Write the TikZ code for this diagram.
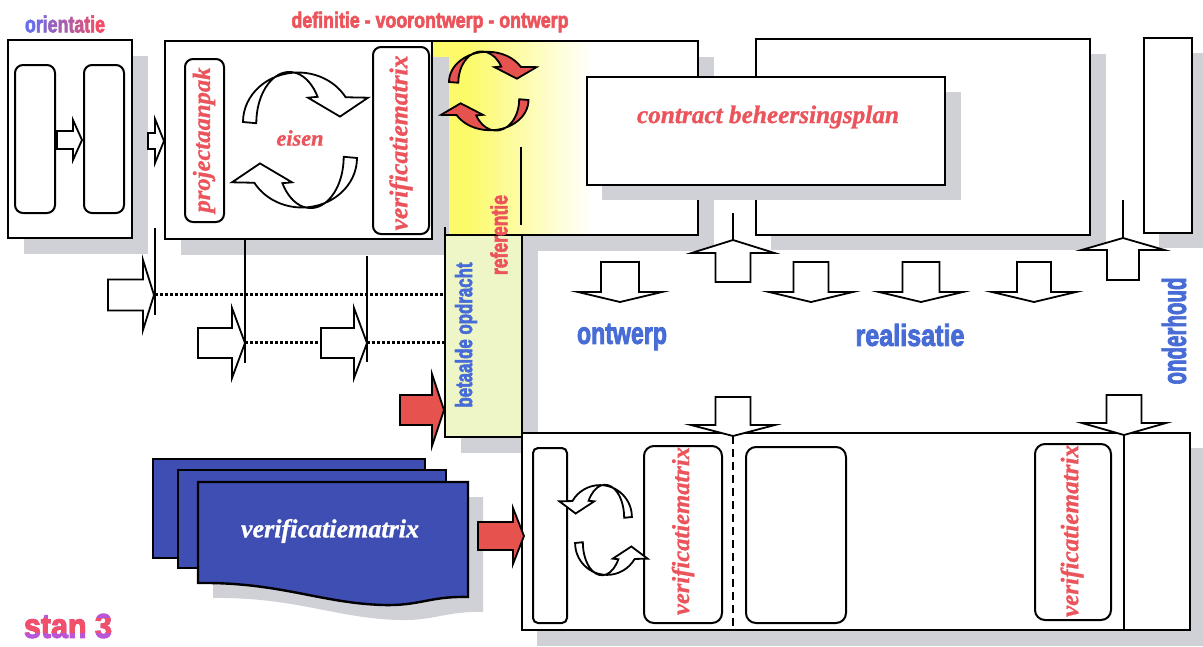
\documentclass[tikz,border=0pt]{standalone}
\usepackage{fontspec}
\usepackage{graphicx}
\newfontfamily\condfont[BoldFeatures={FakeBold=3}]{Liberation Sans}
\newfontfamily\serifit[BoldItalicFeatures={FakeBold=1}]{Liberation Serif}
\definecolor{redtxt}{RGB}{236,84,92}
\definecolor{bluetxt}{RGB}{72,108,214}
\definecolor{arrred}{RGB}{230,82,78}
\definecolor{pageblue}{RGB}{62,78,178}
\definecolor{shadowgray}{RGB}{208,208,215}
\definecolor{yellowA}{RGB}{252,250,105}
\definecolor{paleyg}{RGB}{238,246,200}
\definecolor{orB}{RGB}{105,110,235}
\definecolor{orR}{RGB}{245,75,100}
\definecolor{stanP}{RGB}{185,85,215}
\definecolor{stanR}{RGB}{242,80,105}

\newcommand\harr[7]{% style, x1, x2, x3(tip), yc, half shaft, half head
  \draw[#1] (#2,{#5-#6}) -- (#3,{#5-#6}) -- (#3,{#5-#7}) -- (#4,#5) -- (#3,{#5+#7}) -- (#3,{#5+#6}) -- (#2,{#5+#6}) -- cycle;}
\newcommand\varr[7]{% style, xc, y1, y2, y3(tip), half shaft, half head
  \draw[#1] ({#2-#6},#3) -- ({#2-#6},#4) -- ({#2-#7},#4) -- (#2,#5) -- ({#2+#7},#4) -- ({#2+#6},#4) -- ({#2+#6},#3) -- cycle;}
\newcommand\curvarrow[2]{% style, scope options
  \begin{scope}[#2]
  \draw[#1] (-55,0) arc[start angle=180, end angle=330, x radius=55, y radius=55]
    -- (70,-27) -- (42,-6) -- (10,-27) -- (19.6,-28)
    arc[start angle=329, end angle=180, x radius=33, y radius=57] -- cycle;
  \end{scope}}

\begin{document}
\begin{tikzpicture}[x=1pt,y=-1pt,
  box/.style={draw=black, line width=2.4pt, fill=white},
  boxline/.style={draw=black, line width=2.4pt},
  rbox/.style={draw=black, line width=2pt, rounded corners=8pt, fill=white},
  shadow/.style={fill=shadowgray},
  openarr/.style={draw=black, line width=1.8pt, fill=white, line join=miter},
  redarr/.style={draw=black, line width=1.8pt, fill=arrred, line join=miter},
  thinline/.style={draw=black, line width=2pt},
  dotline/.style={draw=black, line width=3pt, dash pattern=on 3pt off 2pt},
  redit/.style={text=redtxt, font=\serifit\bfseries\itshape, inner sep=0pt},
  condr/.style={text=redtxt, font=\condfont\bfseries, inner sep=0pt},
  condb/.style={text=bluetxt, font=\condfont\bfseries, inner sep=0pt}]
\useasboundingbox (0,0) rectangle (1203,646);
\fill[white] (0,0) rectangle (1203,646);

% ---------- top row shadows and boxes ----------
\fill[shadow] (24,56) rectangle (148,254);
\fill[shadow] (448,57) rectangle (714,251);
\fill[yellowA] (432,41) rectangle (468,235);
\shade[left color=yellowA, right color=white] (468,41) rectangle (592,235);
\fill[white] (592,41) rectangle (698,235);
\draw[boxline] (432,41) rectangle (698,235);
\fill[shadow] (181,57) rectangle (449,255);

\draw[box] (8,40) rectangle (132,238);
\draw[box] (165,41) rectangle (432,239);

\fill[shadow] (771,54) rectangle (1106,250);
\draw[box] (756,39) rectangle (1090,235);
\fill[shadow] (1159,53) rectangle (1210,248);
\draw[box] (1144,38) rectangle (1192,233);
\fill[shadow] (602,92) rectangle (961,200);
\draw[box] (587,77) rectangle (945,185);

% orientatie content
\draw[rbox] (15,65) rectangle (55,213);
\draw[rbox] (84,65) rectangle (124,213);
\harr{openarr}{57}{73}{82}{140}{9}{20}
\harr{openarr}{148}{155}{164}{141}{8}{22}

% definitie content
\draw[rbox] (185,59) rectangle (224,222);
\draw[rbox] (373,47) rectangle (429,234);
\node[redit, rotate=90] (proj) at (204,140) {\resizebox{145pt}{!}{projectaanpak}};
\node[redit, rotate=90] (verif1) at (401,143) {\resizebox{175pt}{!}{verificatiematrix}};
\curvarrow{openarr}{shift={(298,122)}, yscale=0.9}
\curvarrow{openarr}{shift={(302,158)}, rotate=180, yscale=0.9}
\node[redit] (eisen) at (300,138) {\resizebox{47pt}{!}{eisen}};

% red cycle in yellow
\curvarrow{redarr}{shift={(487.5,82)}, xscale=0.7, yscale=0.55}
\curvarrow{redarr}{shift={(490,100)}, rotate=180, xscale=0.7, yscale=0.55}
\draw[thinline] (521,147) -- (521,225);

\node[redit] (cbp) at (768,117) {\resizebox{262pt}{!}{contract beheersingsplan}};

% ---------- betaalde opdracht ----------
\fill[shadow] (461,251) rectangle (538,453);
\draw[box, fill=paleyg] (445,235) rectangle (522,437);
\draw[thinline] (445,227) -- (445,236);
\node[condr, rotate=90] (ref) at (499,235) {\resizebox{80pt}{17pt}{referentie}};
\node[condb, rotate=90] (beta) at (466,335) {\resizebox{145pt}{17pt}{betaalde opdracht}};

% ---------- left middle ----------
\draw[thinline] (155,228) -- (155,315);
\draw[thinline] (245,239) -- (245,363);
\draw[thinline] (367,256) -- (367,362);
\draw[dotline] (155,294) -- (444,294);
\draw[dotline] (245,342) -- (321,342);
\draw[dotline] (367,342) -- (444,342);
\harr{openarr}{108}{143}{154}{295}{15.5}{35}
\harr{openarr}{198}{232}{245}{343}{15}{35}
\harr{openarr}{321}{354}{367}{343}{15}{35}
\harr{redarr}{400}{432}{444}{410}{15}{36}

% ---------- middle region ----------
\draw[thinline] (733,213) -- (733,240);
\draw[thinline] (1123,200) -- (1123,238);
\varr{openarr}{733}{282}{253}{240}{17.5}{41.5}
\varr{openarr}{1123}{280}{250}{238}{16}{41.5}
\varr{openarr}{620}{262}{292}{302}{19}{42}
\varr{openarr}{811}{262}{292}{302}{17.5}{42}
\varr{openarr}{921}{262}{292}{302}{18.5}{42}
\varr{openarr}{1034}{262}{292}{302}{17}{42}
\node[condb] (ontw) at (622,337) {\resizebox{90pt}{20pt}{ontwerp}};
\node[condb] (real) at (910,335) {\resizebox{109pt}{22pt}{realisatie}};
\node[condb, rotate=90] (onder) at (1174,331) {\resizebox{107pt}{24pt}{onderhoud}};

% ---------- bottom box ----------
\fill[shadow] (537,448) rectangle (1206,646);
\draw[box] (522,433) rectangle (1190,630);
\draw[thinline] (1124,433) -- (1124,630);
\draw[draw=black, line width=2pt, dash pattern=on 8pt off 5pt] (733,436) -- (733,630);
\varr{openarr}{733}{397}{425}{436}{17.5}{42}
\varr{openarr}{1124}{395}{423}{435}{17.5}{42}
\draw[rbox, rounded corners=5pt] (533,448) rectangle (567,623);
\draw[rbox, rounded corners=10pt] (644,446) rectangle (722,623);
\draw[rbox, rounded corners=10pt] (746,447) rectangle (846,623);
\draw[rbox, rounded corners=10pt] (1035,444) rectangle (1111,620);
\node[redit, rotate=90] (verif2) at (683,531) {\resizebox{168pt}{!}{verificatiematrix}};
\node[redit, rotate=90] (verif3) at (1072,531) {\resizebox{172pt}{!}{verificatiematrix}};
\curvarrow{openarr}{shift={(600,517)}, xscale=-0.58, yscale=0.58}
\curvarrow{openarr}{shift={(607,543)}, xscale=0.58, yscale=-0.58}

% ---------- stacked pages ----------
\fill[shadow] (213,497) -- (483,497) -- (483,612) .. controls (445,611) and (435,621) .. (398,620) .. controls (335,618) and (295,597) .. (213,598) -- cycle;
\draw[box, fill=pageblue] (153,459) rectangle (425,558);
\draw[box, fill=pageblue] (178,470) rectangle (446,568);
\draw[box, fill=pageblue] (198,482) -- (468,482) -- (468,597) .. controls (430,596) and (420,606) .. (383,605) .. controls (320,603) and (280,582) .. (198,583) -- cycle;
\node[text=white, font=\serifit\bfseries\itshape, inner sep=0pt] (pagetxt) at (330,531) {\resizebox{178pt}{!}{verificatiematrix}};
\harr{redarr}{478}{513}{524}{536}{14}{28}

% ---------- titles ----------
\node[condr, text=black] (orient) at (65,24) {\resizebox{80pt}{17pt}{%
  \textcolor{orR!0!orB}{o}\textcolor{orR!11!orB}{r}\textcolor{orR!22!orB}{i}\textcolor{orR!33!orB}{e}\textcolor{orR!44!orB}{n}%
  \textcolor{orR!56!orB}{t}\textcolor{orR!67!orB}{a}\textcolor{orR!78!orB}{t}\textcolor{orR!89!orB}{i}\textcolor{orR!100!orB}{e}}};
\node[condr] (defn) at (430,22) {\resizebox{277pt}{16pt}{definitie - voorontwerp - ontwerp}};
\node[condr, text=stanP] (stan) at (68,626) {\resizebox{88pt}{24pt}{stan 3}};
\begin{scope}
  \clip (10,618) rectangle (130,632);
  \node[condr, text=stanR] (stanb) at (68,626) {\resizebox{88pt}{24pt}{stan 3}};
\end{scope}
\end{tikzpicture}
\end{document}
